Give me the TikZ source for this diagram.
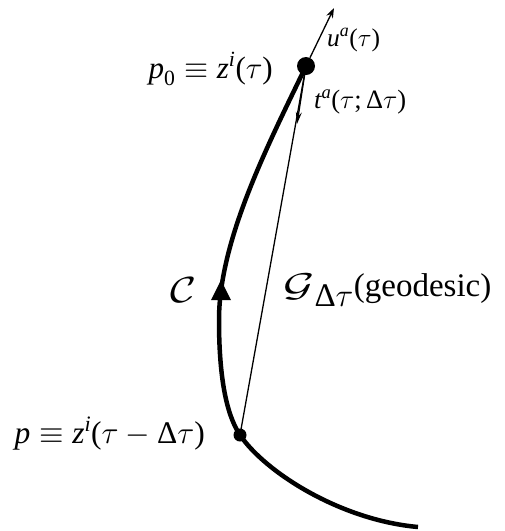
\RequirePackage{fix-cm}
\documentclass[tikz,border=0pt]{standalone}
\usepackage{amsmath}
\usepackage{graphicx}
\usepackage{fontspec}
\setmainfont{Liberation Serif}
\usetikzlibrary{arrows.meta}
\newcommand{\mi}[1]{\text{\itshape #1}}
\newcommand{\mr}[1]{\text{\upshape #1}}
\begin{document}
\begin{tikzpicture}[x=1pt,y=-1pt,
  lbl/.style={inner sep=0pt,font=\fontsize{31}{36}\selectfont},
  small lbl/.style={inner sep=0pt,font=\fontsize{25.5}{30}\selectfont},
  dot/.style={circle,fill=black,inner sep=0pt},
  thin arrow/.style={line width=1.3pt,-{Stealth[length=10pt,width=7pt]}}]
\useasboundingbox (0,0) rectangle (505,531);
\node[dot,minimum size=18pt] (p0) at (306,66) {};
\node[dot,minimum size=13pt] (p) at (240,435) {};
\coordinate (utip) at (334,8);
\coordinate (ttip) at (297,124);
\coordinate (cmid) at (219,320);
\coordinate (cend) at (418,527);
% worldline C
\draw[line width=4.5pt] (p0.center) .. controls (268,145) and (219,240) .. (cmid)
  .. controls (219,390) and (230,420) .. (p.center)
  .. controls (265,472) and (340,520) .. (cend);
\fill (221,280) -- (231,300) -- (211,300) -- cycle;
% geodesic
\draw[line width=1.3pt] (p0.center) -- (p.center);
\draw[thin arrow] (p0) -- (utip);
\draw[line width=1.3pt,-{Stealth[length=12pt,width=6pt]}] (p0.center) -- (ttip);
% labels
\node[lbl,anchor=base east] (lp0) at (273,78) {$\mi{p}_{\mr{0}}\equiv\mi{z}^{\mi{i}}\mr{(}\tau\mr{)}$};
\node[small lbl,anchor=base west] (lu) at (327,46) {$\mi{u}^{\mi{a}}\mr{(}\tau\mr{)}$};
\node[small lbl,anchor=base west,font=\fontsize{26.5}{31}\selectfont] (lt) at (314,108) {$\mi{t}^{\mi{a}}\mr{(}\tau\mr{;\,Δ}\tau\mr{)}$};
\node[lbl,anchor=base east,font=\fontsize{33}{38}\selectfont] (lC) at (197,302) {$\scalebox{1.35}[1.1]{$\mathcal{C}$}$};
\node[lbl,anchor=base west,font=\fontsize{33}{38}\selectfont] (lG) at (283,296) {$\scalebox{1.45}[1.0]{$\mathcal{G}$}_{\textstyle\mr{Δ}\tau}$(geodesic)};
\node[lbl,anchor=base east,font=\fontsize{31.5}{36}\selectfont] (lp) at (205,443) {$\mi{p}\equiv\mi{z}^{\mi{i}}\mr{(}\tau-\mr{Δ}\tau\mr{)}$};
\end{tikzpicture}
\end{document}
